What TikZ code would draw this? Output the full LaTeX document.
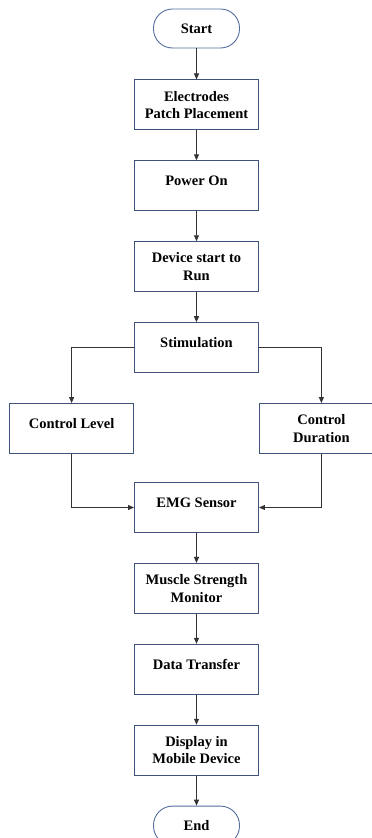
\documentclass[tikz,border=0pt]{standalone}
\usepackage{fontspec}
\setmainfont{Liberation Serif}
\usepackage{tikz}
\usetikzlibrary{arrows.meta, positioning}
\definecolor{boxblue}{RGB}{62,82,122}
\definecolor{termblue}{RGB}{84,110,158}

\begin{document}
\begin{tikzpicture}[
    x=1pt, y=1pt,
    node distance=30pt,
    box/.style={draw=boxblue, line width=0.9pt, minimum width=124pt,
                minimum height=50pt, align=center, inner sep=2pt,
                font=\fontsize{14.5}{17.5}\selectfont\bfseries},
    sbox/.style={box, text depth=10pt},
    term/.style={box, draw=termblue, minimum width=86pt,
                 minimum height=39pt, rounded corners=19pt},
    arr/.style={-{Triangle[length=6pt, width=5pt]}, line width=0.9pt,
                black!80}
  ]
  \useasboundingbox (0,0) rectangle (372,-838);
  \node[term] (start) at (196.5,-28.5) {Start};
  \node[box, below=31pt of start] (patch) {Electrodes\\Patch Placement};
  \node[sbox, below=of patch] (power) {Power On};
  \node[box, below=of power] (run) {Device start to\\Run};
  \node[sbox, below=of run] (stim) {Stimulation};
  \node[sbox, below left=30pt and 0pt of stim] (level) {Control Level};
  \node[box, below right=30pt and 0pt of stim] (dur) {Control\\Duration};
  \node[sbox, below=109pt of stim] (emg) {EMG Sensor};
  \node[box, below=of emg] (muscle) {Muscle Strength\\Monitor};
  \node[sbox, below=of muscle] (data) {Data Transfer};
  \node[box, below=of data] (disp) {Display in\\Mobile Device};
  \node[term, below=of disp] (end) {End};

  \draw[arr] (start) -- (patch);
  \draw[arr] (patch) -- (power);
  \draw[arr] (power) -- (run);
  \draw[arr] (run) -- (stim);
  \draw[arr] (stim.west) -| (level.north);
  \draw[arr] (stim.east) -| (dur.north);
  \draw[arr] (level.south) |- (emg.west);
  \draw[arr] (dur.south) |- (emg.east);
  \draw[arr] (emg) -- (muscle);
  \draw[arr] (muscle) -- (data);
  \draw[arr] (data) -- (disp);
  \draw[arr] (disp) -- (end);
\end{tikzpicture}
\end{document}
